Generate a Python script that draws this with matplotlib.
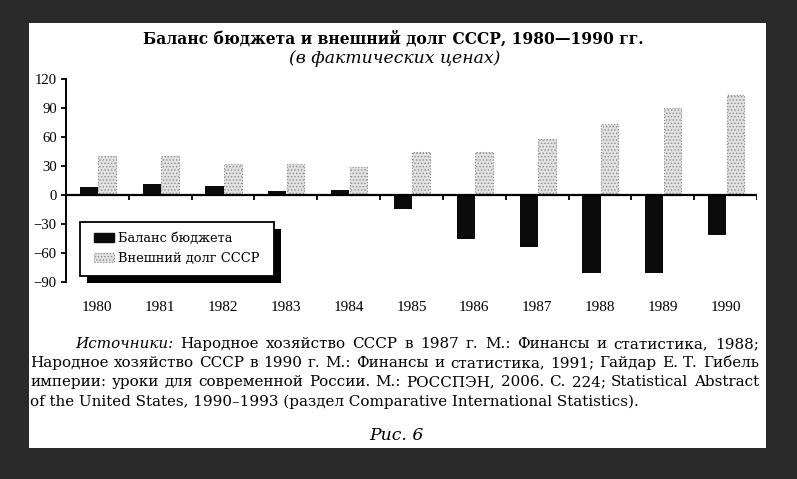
import matplotlib
matplotlib.use('Agg')
import matplotlib.pyplot as plt
from matplotlib.patches import Rectangle, Patch
import numpy as np

# data
years = ['1980', '1981', '1982', '1983', '1984', '1985', '1986', '1987', '1988', '1989', '1990']
balance = [8, 11, 9, 4, 5, -14, -46, -54, -81, -81, -41]
debt = [40, 40, 32, 32, 29, 45, 44, 58, 73, 90, 103]
y_ticks = [-90, -60, -30, 0, 30, 60, 90, 120]

title = 'Баланс бюджета и внешний долг СССР, 1980—1990 гг.'
subtitle = '(в фактических ценах)'
legend_labels = ['Баланс бюджета', 'Внешний долг СССР']
source_lines = [
    'Источники: Народное хозяйство СССР в 1987 г. М.: Финансы и статистика, 1988;',
    'Народное хозяйство СССР в 1990 г. М.: Финансы и статистика, 1991; Гайдар Е. Т. Гибель',
    'империи: уроки для современной России. М.: РОССПЭН, 2006. С. 224;  Statistical Abstract',
    'of the United States, 1990–1993 (раздел Comparative International Statistics).',
]
fig_label = 'Рис. 6'

plt.rcParams['font.family'] = ['Liberation Serif', 'DejaVu Serif']
plt.rcParams['hatch.linewidth'] = 0.6
TXT = ['DejaVu Serif']

W, H = 797, 479
fig = plt.figure(figsize=(W / 100, H / 100), dpi=100, facecolor='#2a2a2a')


def fx(x):
    return x / W


def fy(y):
    return 1 - y / H


# white page
fig.patches.append(Rectangle((fx(29), fy(448)), (766 - 29) / W, (448 - 23) / H,
                             transform=fig.transFigure, facecolor='white',
                             edgecolor='none', zorder=-1))

ax = fig.add_axes([fx(66), fy(282), 691 / W, 203 / H])
ax.patch.set_visible(False)
x = np.arange(len(years))
ax.bar(x - 0.135, balance, 0.29, color='#0b0b0b', zorder=2)
ax.bar(x + 0.155, debt, 0.28, facecolor='#e2e2e2', edgecolor='#8a8a8a',
       hatch='.....', linewidth=0.8, linestyle=':', zorder=2)

ax.set_xlim(-0.5, 10.5)
ax.set_ylim(-90, 120)
for s in ['top', 'right', 'bottom']:
    ax.spines[s].set_visible(False)
ax.spines['left'].set_linewidth(1.4)
ax.axhline(0, color='black', lw=1.6, zorder=3)
ax.vlines(x + 0.5, -5, 0, color='black', lw=1.3, zorder=3)

ax.set_yticks(y_ticks)
ax.tick_params(axis='y', direction='out', length=3.6, width=1.3, pad=3, labelsize=10.6)
ax.set_xticks(x, years)
ax.tick_params(axis='x', length=0, pad=14.0, labelsize=11)

renderer = fig.canvas.get_renderer()


def fit(t, width):
    w = t.get_window_extent(renderer).width
    t.set_fontsize(t.get_fontsize() * width / w)
    return t.get_fontsize()


t = fig.text(fx(393), fy(43), title, ha='center', va='baseline', fontsize=12,
             fontweight='bold', family=TXT)
fit(t, 500)
t = fig.text(fx(395), fy(63), subtitle, ha='center', va='baseline', fontsize=12,
             style='italic', family=TXT)
fit(t, 211)

# last source line sets the text size
last = fig.text(fx(30), fy(406), source_lines[3], ha='left', va='baseline',
                fontsize=9, family=TXT)
src_size = fit(last, 608)


def justify(line, x0, x1, y, italic_first=False):
    words = line.split()
    ts = []
    for k, w in enumerate(words):
        st = 'italic' if (italic_first and k == 0) else 'normal'
        ts.append(fig.text(0, fy(y), w, fontsize=src_size, family=TXT, style=st,
                           va='baseline'))
    widths = [tt.get_window_extent(renderer).width for tt in ts]
    gap = (x1 - x0 - sum(widths)) / (len(ts) - 1)
    pos = x0
    for tt, w in zip(ts, widths):
        tt.set_x(fx(pos))
        pos += w + gap


justify(source_lines[0], 75, 759, 348, italic_first=True)
justify(source_lines[1], 30, 759, 367)
justify(source_lines[2], 30, 759, 386)

t = fig.text(fx(396), fy(440), fig_label, ha='center', va='baseline', fontsize=12,
             style='italic', family=TXT)
fit(t, 54)

# legend text size so the longer label is ~142 px wide
probe = fig.text(0, 0, legend_labels[1], fontsize=10, family=TXT)
leg_size = fit(probe, 142)
probe.remove()
fpx = leg_size * 100 / 72

handles = [Patch(facecolor='#0b0b0b', edgecolor='#0b0b0b'),
           Patch(facecolor='#e2e2e2', edgecolor='#8a8a8a', hatch='.....',
                 linewidth=0.8, linestyle=':')]
leg = fig.legend(handles, legend_labels, loc='upper left',
                 bbox_to_anchor=(fx(94), fy(232)), bbox_transform=fig.transFigure,
                 borderaxespad=0, frameon=False,
                 prop={'family': TXT, 'size': leg_size},
                 handlelength=20 / fpx, handleheight=9 / fpx, handletextpad=4 / fpx,
                 borderpad=0, labelspacing=0.55)

# legend frame with a solid drop shadow, as in the print
fig.patches.append(Rectangle((fx(87), fy(283)), 194 / W, 54 / H,
                             transform=fig.transFigure, facecolor='black',
                             edgecolor='none', zorder=4.8))
fig.patches.append(Rectangle((fx(80), fy(276)), 194 / W, 54 / H,
                             transform=fig.transFigure, facecolor='white',
                             edgecolor='black', linewidth=1.3, zorder=4.9))

fig.savefig('out.png', dpi=100, facecolor=fig.get_facecolor())
